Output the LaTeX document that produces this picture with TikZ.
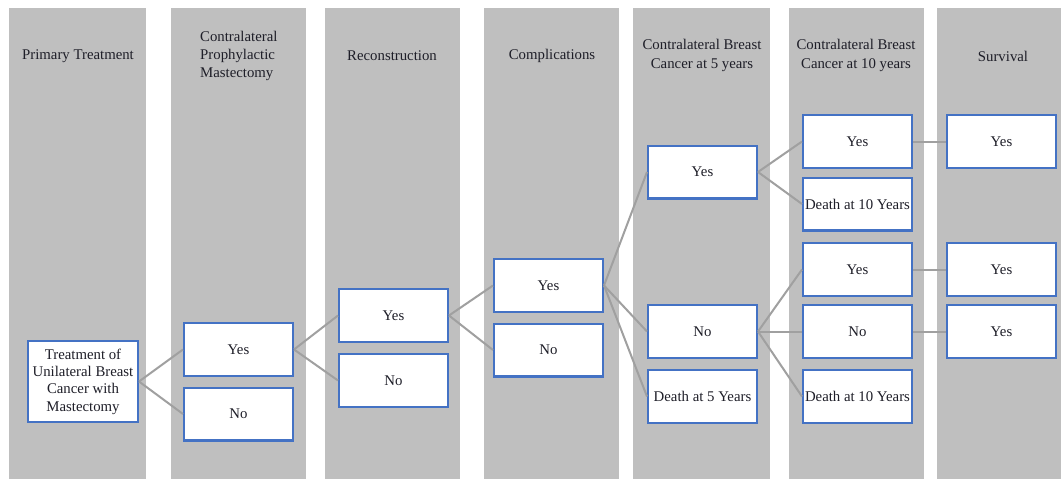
\documentclass[tikz,border=0pt]{standalone}
\usepackage{fontspec}
\setmainfont{Liberation Serif}
\definecolor{colgray}{RGB}{191,191,191}
\definecolor{boxblue}{RGB}{68,114,196}
\definecolor{linegray}{RGB}{160,160,160}
\definecolor{textcol}{RGB}{30,30,40}
\begin{document}
\begin{tikzpicture}[x=1pt,y=-1pt,
  column/.style={fill=colgray,draw=none},
  box/.style={draw=boxblue,line width=2.4pt,fill=white,minimum width=108.6pt,minimum height=52.6pt,inner sep=0pt,align=center,text=textcol,font=\fontsize{14.8}{17.3}\selectfont},
  header/.style={align=center,inner sep=0pt,text=textcol,font=\fontsize{14.8}{18.3}\selectfont},
  link/.style={draw=linegray,line width=2pt}]
\useasboundingbox (0,0) rectangle (1061,479);
\fill[white] (0,0) rectangle (1061,479);
% columns
\path[column] (9,8) rectangle (146,479);
\path[column] (171,8) rectangle (306,479);
\path[column] (325,8) rectangle (460,479);
\path[column] (484,8) rectangle (619,479);
\path[column] (633,8) rectangle (770,479);
\path[column] (789,8) rectangle (924,479);
\path[column] (937,8) rectangle (1061,479);
% headers
\node[header] (h1) at (78,56) {Primary Treatment};
\node[header,anchor=west,align=left] (h2) at (200,56) {Contralateral\\Prophylactic\\Mastectomy};
\node[header] (h3) at (392,56) {Reconstruction};
\node[header] (h4) at (552,56) {Complications};
\node[header] (h5) at (702,55.5) {Contralateral Breast\\Cancer at 5 years};
\node[header] (h6) at (856,55.5) {Contralateral Breast\\Cancer at 10 years};
\node[header] (h7) at (1003,56) {Survival};
% boxes
\node[box,minimum width=109.6pt,minimum height=80.6pt] (root) at (83,381.5) {Treatment of\\Unilateral Breast\\Cancer with\\Mastectomy};
\node[box] (c2y) at (238.5,349.5) {Yes};
\node[box] (c2n) at (238.5,414) {No};
\node[box] (c3y) at (393.5,315.5) {Yes};
\node[box] (c3n) at (393.5,380.5) {No};
\node[box] (c4y) at (548.5,285.5) {Yes};
\node[box] (c4n) at (548.5,350) {No};
\node[box] (c5y) at (702.5,172) {Yes};
\node[box] (c5n) at (702.5,331.5) {No};
\node[box] (c5d) at (702.5,396.5) {Death at 5 Years};
\node[box] (c6y1) at (857.5,141.5) {Yes};
\node[box] (c6d1) at (857.5,204) {Death at 10 Years};
\node[box] (c6y2) at (857.5,269.5) {Yes};
\node[box] (c6n) at (857.5,331.5) {No};
\node[box] (c6d2) at (857.5,396.5) {Death at 10 Years};
\node[box] (c7y1) at (1001.5,141.5) {Yes};
\node[box] (c7y2) at (1001.5,269.5) {Yes};
\node[box] (c7y3) at (1001.5,331.5) {Yes};
% connectors
\draw[link] (root.east) -- (c2y.west);
\draw[link] (root.east) -- (c2n.west);
\draw[link] (c2y.east) -- (c3y.west);
\draw[link] (c2y.east) -- (c3n.west);
\draw[link] (c3y.east) -- (c4y.west);
\draw[link] (c3y.east) -- (c4n.west);
\draw[link] (c4y.east) -- (c5y.west);
\draw[link] (c4y.east) -- (c5n.west);
\draw[link] (c4y.east) -- (c5d.west);
\draw[link] (c5y.east) -- (c6y1.west);
\draw[link] (c5y.east) -- (c6d1.west);
\draw[link] (c5n.east) -- (c6y2.west);
\draw[link] (c5n.east) -- (c6n.west);
\draw[link] (c5n.east) -- (c6d2.west);
\draw[link] (c6y1.east) -- (c7y1.west);
\draw[link] (c6y2.east) -- (c7y2.west);
\draw[link] (c6n.east) -- (c7y3.west);
\end{tikzpicture}
\end{document}
